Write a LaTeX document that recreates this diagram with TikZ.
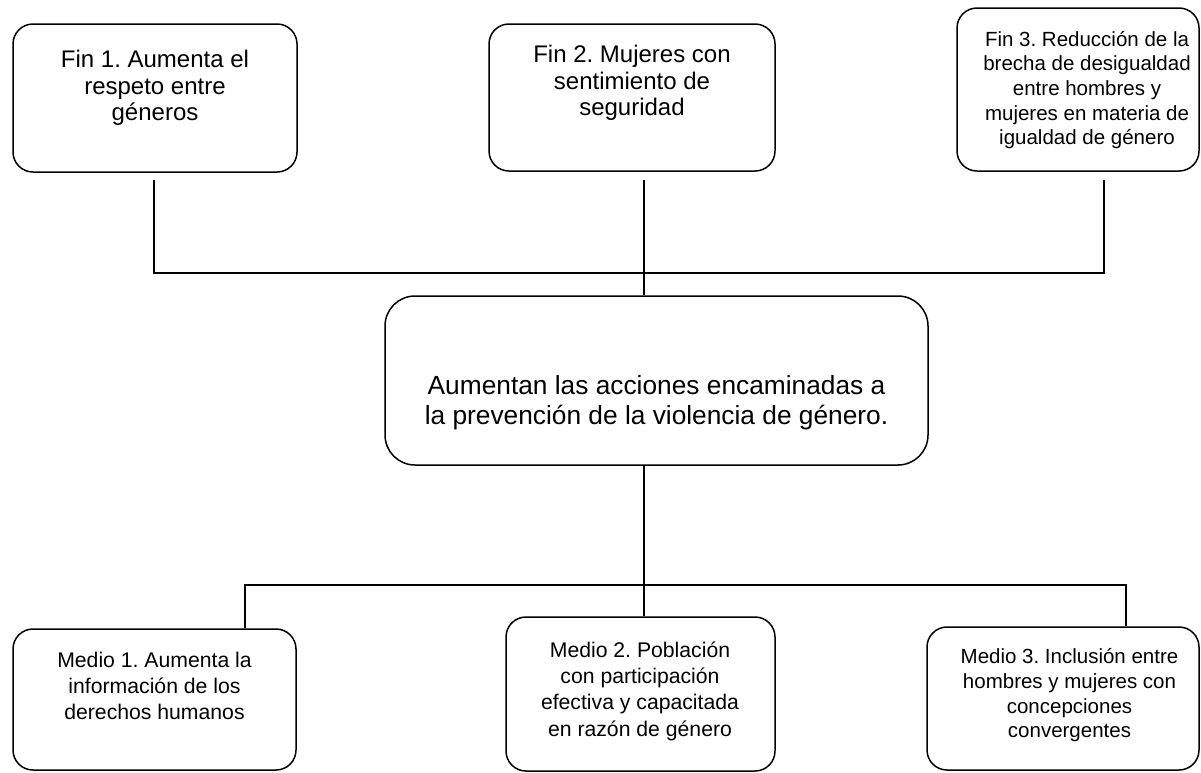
\documentclass[tikz,border=0pt]{standalone}
\usepackage{fontspec}
\setmainfont{Liberation Sans}
\begin{document}
\frenchspacing
\begin{tikzpicture}[x=1pt,y=-1pt,
  boxn/.style={draw=black,line width=1.5pt,rounded corners=20pt,inner sep=0pt,fill=white},
  txt/.style={align=center,inner sep=0pt,text=black},
  conn/.style={draw=black,line width=1.4pt}]
\useasboundingbox (0,0) rectangle (1201,772);
% boxes
\node[boxn,minimum width=284pt,minimum height=148pt] (f1) at (155,98) {};
\node[boxn,minimum width=286pt,minimum height=147pt] (f2) at (632,97.5) {};
\node[boxn,minimum width=242pt,minimum height=163pt] (f3) at (1078,89.5) {};
\node[boxn,rounded corners=30pt,minimum width=543pt,minimum height=169pt] (c) at (656.5,380.5) {};
\node[boxn,minimum width=283pt,minimum height=141pt] (m1) at (154.5,699.5) {};
\node[boxn,minimum width=269pt,minimum height=154pt] (m2) at (640.5,694) {};
\node[boxn,minimum width=272pt,minimum height=143pt] (m3) at (1063,698.5) {};
% texts
\node[txt,font=\fontsize{24}{26.5}\selectfont] (tf1) at (155,88) {Fin 1. Aumenta el\\respeto entre\\géneros};
\node[txt,font=\fontsize{24}{26.5}\selectfont] (tf2) at (632,83) {Fin 2. Mujeres con\\sentimiento de\\seguridad};
\node[txt,font=\fontsize{20.5}{24.6}\selectfont] (tf3) at (1087,90) {Fin 3. Reducción de la\\brecha de desigualdad\\entre hombres y\\mujeres en materia de\\igualdad de género};
\node[txt,font=\fontsize{26.3}{29.7}\selectfont] (tc) at (656.5,403) {Aumentan las acciones encaminadas a\\la prevención de la violencia de género.};
\node[txt,font=\fontsize{21.2}{25.7}\selectfont] (tm1) at (154.5,686) {Medio 1. Aumenta la\\información de los\\derechos humanos};
\node[txt,font=\fontsize{21.2}{26.3}\selectfont] (tm2) at (640,691) {Medio 2. Población\\con participación\\efectiva y capacitada\\en razón de género};
\node[txt,font=\fontsize{20.5}{24.7}\selectfont] (tm3) at (1069.5,695.5) {Medio 3. Inclusión entre\\hombres y mujeres con\\concepciones\\convergentes};
% junction coordinates
\coordinate (t1) at (154,180);
\coordinate (t2) at (644,180);
\coordinate (t3) at (1104,180);
\coordinate (j1) at (154,273);
\coordinate (j3) at (1104,273);
\coordinate (b1) at (245,585);
\coordinate (b2) at (644,585);
\coordinate (b3) at (1126,585);
% connectors
\draw[conn] (t1) -- (j1) -- (j3) -- (t3);
\draw[conn] (t2) -- (t2 |- c.north);
\draw[conn] (c.south -| b2) -- (m2.north -| b2);
\draw[conn] (b1 |- m1.north) -- (b1) -- (b3) -- (b3 |- m3.north);
\end{tikzpicture}
\end{document}
